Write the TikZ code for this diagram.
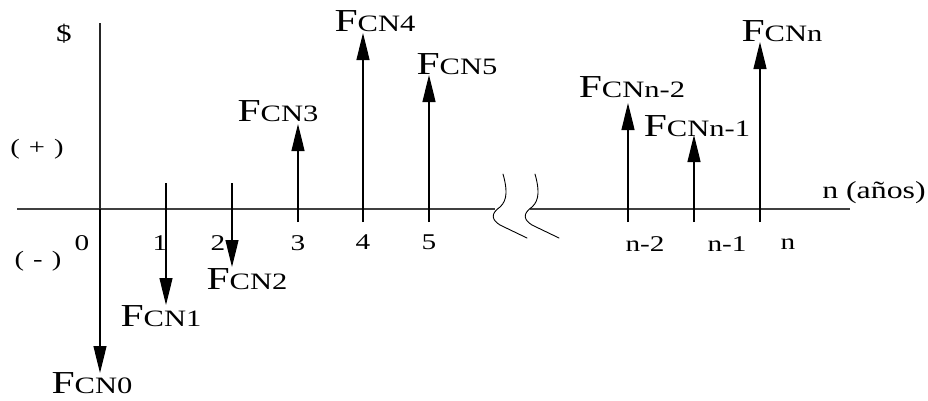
\documentclass[tikz,border=0pt]{standalone}
\usepackage{fontspec}
\usetikzlibrary{arrows.meta}
\newfontfamily\wfont[FakeStretch=1.3]{Liberation Serif}
\newcommand{\FCN}[1]{{\fontsize{32}{32}\selectfont F}{\fontsize{23.5}{23.5}\selectfont CN#1}}
\newcommand{\wsp}{\hspace*{9pt}}
\tikzset{
  every node/.style={inner sep=0pt,font=\wfont\fontsize{22.5}{22.5}\selectfont},
  axisline/.style={line width=1.1pt,draw=black!75},
  arr/.style={line width=1.2pt,-{Triangle[width=13pt,length=27pt]}},
  brk/.style={line width=0.9pt,line cap=round},
  flab/.style={font=\wfont},
  sidelab/.style={font=\wfont\fontsize{22}{22}\selectfont},
}
\begin{document}
\begin{tikzpicture}[x=1pt,y=-1pt]
\useasboundingbox (0,0) rectangle (928,400);
% axes
\coordinate (ytop) at (100,23);
\coordinate (o) at (100,209);
\coordinate (xl) at (17,209);
\coordinate (xb1) at (495,209);
\coordinate (xb2) at (530,209);
\coordinate (xr) at (850,209);
\draw[axisline] (xl) -- (xb1);
\draw[axisline] (xb2) -- (xr);
\draw[axisline,draw=black!85,line width=1.3pt] (ytop) -- (o);
% break marks
\draw[brk] (503,174) .. controls (507,188) and (508,200) .. (500,207)
  .. controls (490,214) and (492,220) .. (500,225) -- (527,238);
\draw[brk] (535,174) .. controls (539,188) and (540,200) .. (532,207)
  .. controls (522,214) and (524,220) .. (532,225) -- (559,238);
% arrows
\coordinate (t0) at (100,373);
\draw[arr] (o) -- (t0);
\coordinate (b1) at (166,183); \coordinate (t1) at (166,305);
\draw[arr] (b1) -- (t1);
\coordinate (b2) at (232,183); \coordinate (t2) at (232,267);
\draw[arr] (b2) -- (t2);
\coordinate (b3) at (298,222); \coordinate (t3) at (298,124);
\draw[arr] (b3) -- (t3);
\coordinate (b4) at (363,222); \coordinate (t4) at (363,33);
\draw[arr] (b4) -- (t4);
\coordinate (b5) at (429,222); \coordinate (t5) at (429,75);
\draw[arr] (b5) -- (t5);
\coordinate (bn2) at (628,222); \coordinate (tn2) at (628,103);
\draw[arr] (bn2) -- (tn2);
\coordinate (bn1) at (694,222); \coordinate (tn1) at (694,135);
\draw[arr] (bn1) -- (tn1);
\coordinate (bn) at (760,222); \coordinate (tn) at (760,42);
\draw[arr] (bn) -- (tn);
% axis labels
\node[font=\wfont\fontsize{24}{24}\selectfont] (dollar) at (64,34) {\$};
\node[sidelab] (plus) at (37,149) {(\wsp+\wsp)};
\node[sidelab] (minus) at (38,261) {(\wsp-\wsp)};
\node[font=\wfont\fontsize{24.5}{24.5}\selectfont] (anos) at (874,193) {n (años)};
\node (l0) at (82,243) {0};
\node (l1) at (160,243) {1};
\node (l2) at (218,243) {2};
\node (l3) at (298,243) {3};
\node (l4) at (363,242) {4};
\node (l5) at (429,242) {5};
\node (ln2) at (645,244) {n-2};
\node (ln1) at (727,244) {n-1};
\node (ln) at (788,244) {n};
% flow labels
\node[flab] (f0) at (92,383) {\FCN{0}};
\node[flab] (f1) at (161,316) {\FCN{1}};
\node[flab] (f2) at (247,279) {\FCN{2}};
\node[flab] (f3) at (278,111) {\FCN{3}};
\node[flab] (f4) at (375,21) {\FCN{4}};
\node[flab] (f5) at (457,64) {\FCN{5}};
\node[flab] (fn2) at (632,87) {\FCN{n-2}};
\node[flab] (fn1) at (697,126) {\FCN{n-1}};
\node[flab] (fn) at (782,31) {\FCN{n}};
\end{tikzpicture}
\end{document}
